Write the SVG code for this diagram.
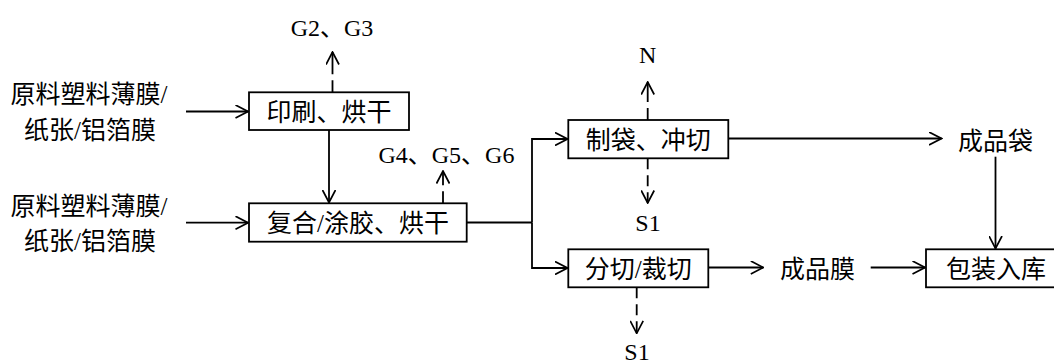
<svg xmlns="http://www.w3.org/2000/svg" width="1054" height="363" viewBox="0 0 1054 363">
<style>
.box{fill:#fff;stroke:#000;stroke-width:1.8}
.ln{fill:none;stroke:#000;stroke-width:1.8}
.ar{marker-end:url(#arr)}
.d1{stroke-dasharray:12 6 80}
.d2{stroke-dasharray:11 6 11 6 80}
text{font-family:"Liberation Serif","Noto Sans CJK SC",serif;fill:#000;text-anchor:middle}
.cn{font-size:25px}
.en{font-size:24px}
</style>
<defs>
<marker id="arr" markerUnits="userSpaceOnUse" viewBox="0 0 14 14" refX="13" refY="7" markerWidth="14" markerHeight="14" orient="auto">
<path d="M0.5,0.5 L13,7 L0.5,13.5" fill="none" stroke="#000" stroke-width="1.7"/>
</marker>
</defs>
<rect width="1054" height="363" fill="#fff"/>
<g id="connectors">
<path class="ln ar" d="M186,111.5 H248"/>
<path class="ln ar" d="M186,222.7 H248"/>
<path class="ln ar" d="M329,130 V202.5"/>
<path class="ln ar d1" d="M332.5,92.3 V52"/>
<path class="ln ar d1" d="M443,203.3 V171"/>
<path class="ln" d="M466.7,222.5 H532"/>
<path class="ln ar" d="M532,222.5 V139 H567.5"/>
<path class="ln ar" d="M532,222.5 V268 H567.5"/>
<path class="ln ar d1" d="M647.7,120 V82"/>
<path class="ln ar d2" d="M647.7,158.3 V203"/>
<path class="ln ar" d="M728.3,138.5 H941.5"/>
<path class="ln ar" d="M995.5,156.7 V248.5"/>
<path class="ln ar" d="M708.3,267.5 H763.3"/>
<path class="ln ar" d="M870.7,267.5 H925"/>
<path class="ln ar d2" d="M636.7,287.3 V333.3"/>
</g>
<g id="input1">
<text class="cn" x="89" y="103">原料塑料薄膜/</text>
<text class="cn" x="90" y="138.5">纸张/铝箔膜</text>
</g>
<g id="input2">
<text class="cn" x="89" y="214.5">原料塑料薄膜/</text>
<text class="cn" x="90" y="249.8">纸张/铝箔膜</text>
</g>
<g id="print">
<rect class="box" x="249" y="92.3" width="160" height="37.7"/>
<text class="cn" x="329" y="120.7">印刷、烘干</text>
</g>
<g id="g23"><text class="en" x="332" y="35.5">G2、G3</text></g>
<g id="compound">
<rect class="box" x="249" y="203.3" width="217.7" height="38.4"/>
<text class="cn" x="358" y="232">复合/涂胶、烘干</text>
</g>
<g id="g456"><text class="en" x="446.4" y="163">G4、G5、G6</text></g>
<g id="bag">
<rect class="box" x="568.3" y="120" width="160" height="38.3"/>
<text class="cn" x="648.3" y="148.7">制袋、冲切</text>
</g>
<g id="n"><text class="en" x="647.7" y="63">N</text></g>
<g id="s1a"><text class="en" x="648" y="230.5">S1</text></g>
<g id="cut">
<rect class="box" x="568.3" y="249.3" width="140" height="38"/>
<text class="cn" x="638.3" y="277.8">分切/裁切</text>
</g>
<g id="s1b"><text class="en" x="637" y="360">S1</text></g>
<g id="prodbag"><text class="cn" x="995.5" y="149.5">成品袋</text></g>
<g id="prodfilm"><text class="cn" x="817.5" y="277.5">成品膜</text></g>
<g id="pack">
<rect class="box" x="926" y="249.3" width="140" height="38"/>
<text class="cn" x="996" y="277.8">包装入库</text>
</g>
</svg>
